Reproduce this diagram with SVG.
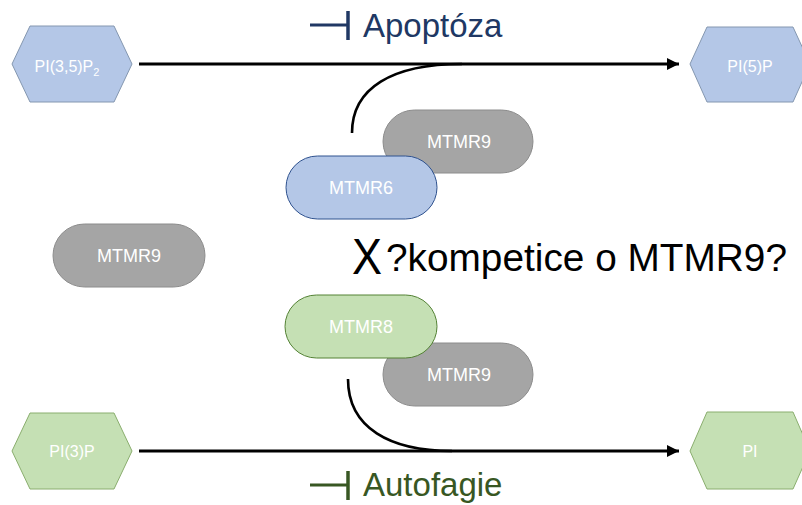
<svg xmlns="http://www.w3.org/2000/svg" width="802" height="505" viewBox="0 0 802 505">
<style>
  .lbl{font-family:"Liberation Sans",Arial,sans-serif;fill:#ffffff;text-anchor:middle}
  .hexb{fill:#B4C7E7;stroke:#8497B0;stroke-width:1}
  .hexg{fill:#C5E0B4;stroke:#8AAE6E;stroke-width:1}
  .gray{fill:#A5A5A5;stroke:#8C8C8C;stroke-width:1}
  .blue{fill:#B4C7E7;stroke:#2F528F;stroke-width:1}
  .green{fill:#C5E0B4;stroke:#548235;stroke-width:1}
  .arr{stroke:#000;stroke-width:3;fill:none}
  .crv{stroke:#000;stroke-width:2.6;fill:none}
  .big{font-family:"Liberation Sans",Arial,sans-serif}
</style>
<defs>
  <marker id="ah" viewBox="0 0 10 10" refX="10" refY="5" markerWidth="4" markerHeight="4" markerUnits="strokeWidth" orient="auto">
    <path d="M0,0 L10,5 L0,10 z" fill="#000"/>
  </marker>
</defs>
<rect width="802" height="505" fill="#ffffff"/>

<g id="connectors">
  <line class="arr" x1="139" y1="64" x2="679" y2="64" marker-end="url(#ah)"/>
  <path class="crv" d="M352,133 C352,88 392,64 462,64"/>
  <line class="arr" x1="139" y1="451" x2="679" y2="451" marker-end="url(#ah)"/>
  <path class="crv" d="M348,379 C348,428 390,451 452,451"/>
</g>

<g id="apoptoza">
  <line x1="310" y1="25" x2="349" y2="25" stroke="#203864" stroke-width="3"/>
  <line x1="348" y1="11" x2="348" y2="40" stroke="#203864" stroke-width="3.5"/>
  <text x="363" y="37" class="big" font-size="33" fill="#203864">Apoptóza</text>
</g>

<g id="autofagie">
  <line x1="310" y1="485" x2="349" y2="485" stroke="#385723" stroke-width="3"/>
  <line x1="348" y1="471" x2="348" y2="500" stroke="#385723" stroke-width="3.5"/>
  <text x="363" y="496" class="big" font-size="33" fill="#385723">Autofagie</text>
</g>

<g id="PI35P2">
  <polygon class="hexb" points="12,64 30,26 114,26 132,64 114,102 30,102"/>
  <text x="67" y="72" class="lbl" font-size="16">PI(3,5)P<tspan font-size="11" dy="4">2</tspan></text>
</g>
<g id="PI5P">
  <polygon class="hexb" points="690,64 707,27 793,27 810,64 793,102 707,102"/>
  <text x="750" y="72" class="lbl" font-size="16">PI(5)P</text>
</g>
<g id="PI3P">
  <polygon class="hexg" points="12,451 30,413 114,413 132,451 114,489 30,489"/>
  <text x="72" y="457" class="lbl" font-size="16">PI(3)P</text>
</g>
<g id="PI">
  <polygon class="hexg" points="690,451 707,412 793,412 810,451 793,489 707,489"/>
  <text x="750" y="457" class="lbl" font-size="16">PI</text>
</g>

<g id="MTMR9_top">
  <rect class="gray" x="383" y="110" width="150" height="63" rx="31.5"/>
  <text x="459" y="148" class="lbl" font-size="18">MTMR9</text>
</g>
<g id="MTMR6">
  <rect class="blue" x="286" y="156" width="151" height="63" rx="31.5"/>
  <text x="361" y="194" class="lbl" font-size="18">MTMR6</text>
</g>
<g id="MTMR9_left">
  <rect class="gray" x="53" y="224" width="152" height="63" rx="31.5"/>
  <text x="129" y="262" class="lbl" font-size="18">MTMR9</text>
</g>
<g id="MTMR9_bottom">
  <rect class="gray" x="383" y="343" width="150" height="63" rx="31.5"/>
  <text x="459" y="381" class="lbl" font-size="18">MTMR9</text>
</g>
<g id="MTMR8">
  <rect class="green" x="285" y="295" width="152" height="63" rx="31.5"/>
  <text x="361" y="333" class="lbl" font-size="18">MTMR8</text>
</g>

<g id="kompetice">
  <text x="352" y="274" class="big" font-size="50" fill="#000" textLength="30" lengthAdjust="spacingAndGlyphs">X</text>
  <text x="386" y="271" class="big" font-size="38" fill="#000" textLength="401" lengthAdjust="spacingAndGlyphs">?kompetice o MTMR9?</text>
</g>
</svg>
